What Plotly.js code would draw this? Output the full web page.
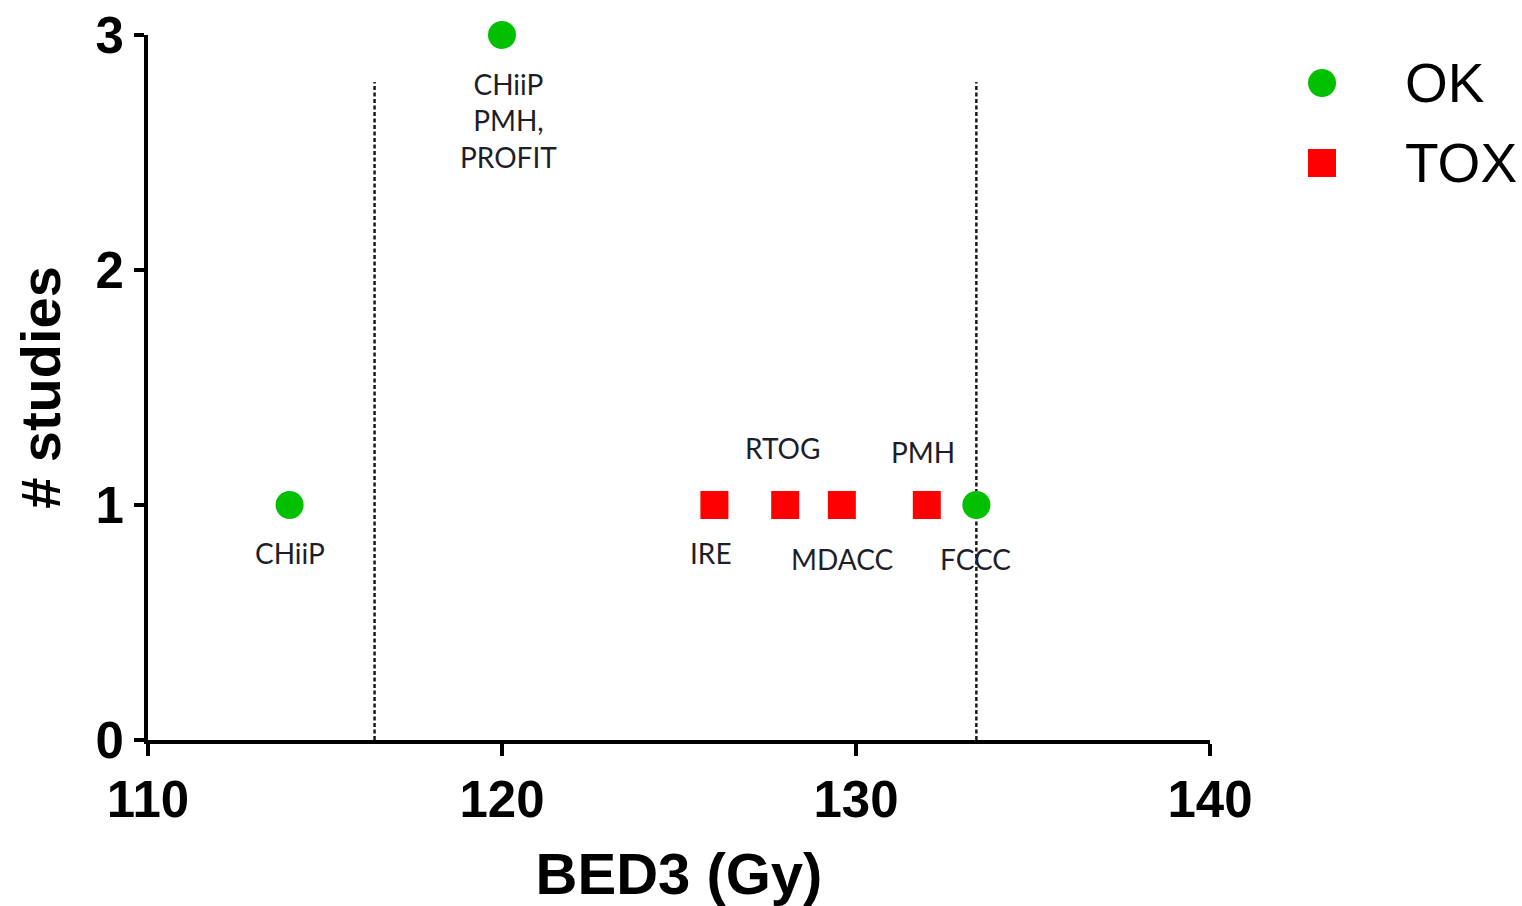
<!DOCTYPE html>
<html>
<head>
<meta charset="utf-8">
<script src="https://cdn.plot.ly/plotly-3.0.1.min.js"></script>
<style>
  html, body { margin: 0; padding: 0; background: #fff; }
  #chart { width: 1522px; height: 906px; }
</style>
</head>
<body>
<div id="chart"></div>
<script>
// Studies without toxicity (OK)
const okDose = [114, 120, 133.4];
const okStudies = [1, 3, 1];
const okLabels = ['CHiiP', 'CHiiP<br>PMH,<br>PROFIT', 'FCCC'];

// Studies reporting toxicity (TOX)
const toxDose = [126, 128, 129.6, 132];
const toxStudies = [1, 1, 1, 1];
const toxLabels = ['IRE', 'RTOG', 'MDACC', 'PMH'];

// Dotted reference doses and how high they reach
const guideDose = [116.4, 133.4];
const guideTop = 2.8;

// Axis ticks
const xTicks = [110, 120, 130, 140];
const yTicks = [0, 1, 2, 3];

// Legend entries
const legendNames = ['OK', 'TOX'];

// Label offsets in pixels (x, y) relative to each marker
const okLabelShift = [[0, -48], [6, -85], [-1, -54]];
const toxLabelShift = [[-3, -48], [-3, 57], [0, -54], [-4, 53]];

const GREEN = '#00c000';
const RED = '#ff0000';
const MARK = 28;

const traces = [];

guideDose.forEach(function (d) {
  traces.push({
    x: [d, d], y: [0, guideTop],
    mode: 'lines', type: 'scatter',
    line: { color: '#1a1a1a', width: 2.5, dash: '4px,2.5px' },
    hoverinfo: 'skip', showlegend: false
  });
});

traces.push({
  name: legendNames[0], x: okDose, y: okStudies,
  mode: 'markers', type: 'scatter', cliponaxis: false,
  marker: { symbol: 'circle', size: MARK, color: GREEN },
  showlegend: false
});
traces.push({
  name: legendNames[1], x: toxDose, y: toxStudies,
  mode: 'markers', type: 'scatter', cliponaxis: false,
  marker: { symbol: 'square', size: MARK, color: RED },
  showlegend: false
});

// Legend keys drawn on their own hidden axes
traces.push({
  x: [0, 0], y: [0, 1], xaxis: 'x2', yaxis: 'y2',
  mode: 'markers', type: 'scatter', cliponaxis: false,
  marker: { symbol: ['circle', 'square'], size: MARK, color: [GREEN, RED] },
  hoverinfo: 'skip', showlegend: false
});

const annotations = [];
function addLabels(xs, ys, labels, shifts) {
  labels.forEach(function (t, i) {
    annotations.push({
      x: xs[i], y: ys[i], xref: 'x', yref: 'y',
      text: t, showarrow: false,
      xanchor: 'center', yanchor: 'middle',
      xshift: shifts[i][0], yshift: shifts[i][1],
      font: { family: 'Lato, "Open Sans", sans-serif', size: 28, color: '#1e1e28' },
      align: 'center'
    });
  });
}
addLabels(okDose, okStudies, okLabels, okLabelShift);
addLabels(toxDose, toxStudies, toxLabels, toxLabelShift);

legendNames.forEach(function (n, i) {
  annotations.push({
    x: 1, y: i, xref: 'x2', yref: 'y2',
    text: n, showarrow: false, xanchor: 'left', yanchor: 'middle',
    font: { family: '"Liberation Sans", Arial, sans-serif', size: 55, color: '#000' }
  });
});

const axisFont = { family: '"Liberation Sans", Arial, sans-serif', size: 51, color: '#000', weight: 'bold' };
const titleFont = { family: '"Liberation Sans", Arial, sans-serif', size: 58, color: '#000', weight: 'bold' };

const layout = {
  width: 1522, height: 906,
  margin: { l: 148, r: 0, t: 35, b: 166 },
  paper_bgcolor: '#fff', plot_bgcolor: '#fff',
  showlegend: false,
  xaxis: {
    domain: [0, 1062 / 1374],
    range: [110, 140],
    tickvals: xTicks, ticktext: xTicks.map(String),
    showgrid: false, zeroline: false,
    showline: true, linecolor: '#000', linewidth: 4,
    ticks: 'outside', ticklen: 12, tickwidth: 4, tickcolor: '#000',
    tickfont: axisFont,
    title: { text: 'BED3 (Gy)', font: titleFont, standoff: 27 },
    anchor: 'y'
  },
  yaxis: {
    range: [0, 3],
    tickvals: yTicks, ticktext: yTicks.map(String),
    showgrid: false, zeroline: false,
    showline: true, linecolor: '#000', linewidth: 4,
    ticks: 'outside', ticklen: 10, tickwidth: 4, tickcolor: '#000',
    tickfont: axisFont,
    title: { text: '# studies', font: { family: titleFont.family, size: 56, color: '#000', weight: 'bold' }, standoff: 18 },
    anchor: 'x'
  },
  xaxis2: {
    domain: [0.78, 1], range: [-1.263, 2.469],
    visible: false, showgrid: false, zeroline: false, anchor: 'y2', fixedrange: true
  },
  yaxis2: {
    domain: [0.6, 1], range: [2.925, -0.6],
    visible: false, showgrid: false, zeroline: false, anchor: 'x2', fixedrange: true
  },
  annotations: annotations
};

Plotly.newPlot('chart', traces, layout, { displayModeBar: false, staticPlot: true });
</script>
</body>
</html>
